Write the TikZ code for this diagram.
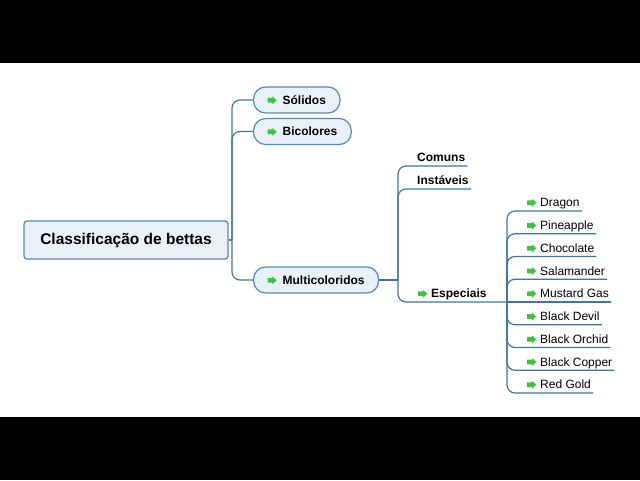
\documentclass[tikz,border=0pt]{standalone}
\usepackage{fontspec}
\setmainfont{Liberation Sans}
\usetikzlibrary{calc}
\definecolor{linkblue}{HTML}{45749F}
\definecolor{boxline}{HTML}{5A88B4}
\definecolor{boxfill}{HTML}{E8F1FA}
\definecolor{arrowgreen}{HTML}{3CC43C}
\tikzset{link/.style={line width=1.2pt,color=linkblue,rounded corners=8pt}}
\tikzset{rootbox/.style={draw=boxline,fill=boxfill,line width=1.2pt,rounded corners=3pt,
  minimum width=204pt,minimum height=38pt,font=\fontsize{15.5}{18}\selectfont\bfseries}}
\tikzset{mainbox/.style={draw=boxline,fill=boxfill,line width=1.2pt,rounded corners=12pt,
  minimum height=26pt,inner xsep=14pt,inner ysep=2pt,anchor=west,font=\fontsize{12}{14}\selectfont\bfseries}}
\tikzset{leaf/.style={anchor=south west,inner xsep=2pt,inner ysep=4pt,text depth=0pt,
  font=\fontsize{12}{14}\selectfont}}
\newcommand{\garr}{\tikz[x=1pt,y=1pt,baseline=0pt,sharp corners]\fill[arrowgreen] (0,1.6)--(4.8,1.6)--(4.8,0)--(9,4)--(4.8,8)--(4.8,6.4)--(0,6.4)--cycle;}

\begin{document}
\begin{tikzpicture}[x=1pt,y=-1pt]
	\useasboundingbox (0,0) rectangle (640,480);
	\fill [white] (0,0) rectangle (640,480);
	\fill [black] (0,0) rectangle (640,63);
	\fill [black] (0,417) rectangle (640,480);

	\node [rootbox] (root) at (126,240) {Classificação de bettas};
	\node [mainbox] (sol) at (253,100) {\garr\hspace{6pt}Sólidos};
	\node [mainbox] (bic) at (253,131.5) {\garr\hspace{6pt}Bicolores};
	\node [mainbox] (mul) at (253,280) {\garr\hspace{6pt}Multicoloridos};

	% joints of the branches
	\coordinate (tr) at (232,240);
	\coordinate (mj) at (398,280);
	\coordinate (sj) at (507,302);

	\node [leaf] (com) at (415,166) {\bfseries Comuns};
	\node [leaf] (ins) at (415,189) {\bfseries Instáveis};
	\node [leaf] (esp) at (416,302) {\garr\hspace{4pt}\bfseries Especiais};

	\node [leaf] (dra) at (525,211) {\garr\hspace{4pt}Dragon};
	\node [leaf] (pin) at (525,233.75) {\garr\hspace{4pt}Pineapple};
	\node [leaf] (cho) at (525,256.5) {\garr\hspace{4pt}Chocolate};
	\node [leaf] (sal) at (525,279.25) {\garr\hspace{4pt}Salamander};
	\node [leaf] (mus) at (525,302) {\garr\hspace{4pt}Mustard Gas};
	\node [leaf] (dev) at (525,324.75) {\garr\hspace{4pt}Black Devil};
	\node [leaf] (orc) at (525,347.5) {\garr\hspace{4pt}Black Orchid};
	\node [leaf] (cop) at (525,370.25) {\garr\hspace{4pt}Black Copper};
	\node [leaf] (red) at (525,393) {\garr\hspace{4pt}Red Gold};

	\draw [link] (root.east) -- (tr);
	\draw [link] (tr) |- (sol.west);
	\draw [link] (tr) |- (bic.west);
	\draw [link] (tr) |- (mul.west);

	\draw [link] (mul.east) -- (mj);
	\draw [link] (mj) |- (com.south west) -- (com.south east);
	\draw [link] (mj) |- (ins.south west) -- (ins.south east);
	\draw [link] (mj) |- (esp.south west) -- (sj);

	\draw [link] (sj) |- (dra.south west) -- (dra.south east);
	\draw [link] (sj) |- (pin.south west) -- (pin.south east);
	\draw [link] (sj) |- (cho.south west) -- (cho.south east);
	\draw [link] (sj) |- (sal.south west) -- (sal.south east);
	\draw [link] (sj) -- (mus.south west) -- (mus.south east);
	\draw [link] (sj) |- (dev.south west) -- (dev.south east);
	\draw [link] (sj) |- (orc.south west) -- (orc.south east);
	\draw [link] (sj) |- (cop.south west) -- (cop.south east);
	\draw [link] (sj) |- (red.south west) -- (red.south east);
\end{tikzpicture}
\end{document}
